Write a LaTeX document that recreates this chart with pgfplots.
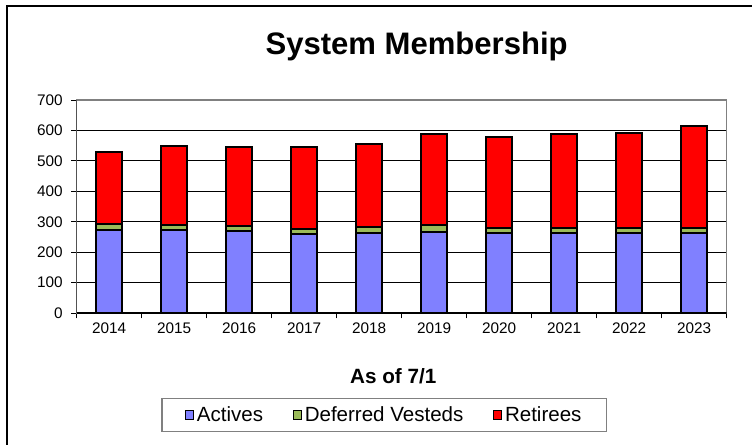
\documentclass[border=0pt]{standalone}
\usepackage{pgfplots}
\pgfplotsset{compat=1.18}
\usepackage{fontspec}
\setmainfont{Liberation Sans}
\definecolor{cActive}{HTML}{8080FF}
\definecolor{cDef}{HTML}{9BBB59}
\definecolor{cRet}{HTML}{FF0000}
\begin{document}
\begin{tikzpicture}
\begin{axis}[
  at={(57.5pt,-234.75pt)}, anchor=south west,
  scale only axis, width=487.5pt, height=159.75pt,
  ybar stacked, bar width=19.5pt,
  xmin=-0.5, xmax=9.5, ymin=0, ymax=700,
  ytick={0,100,...,700},
  xtick={0,...,9},
  xticklabels={2014,2015,2016,2017,2018,2019,2020,2021,2022,2023},
  minor xtick={-0.5,0.5,...,9.5},
  major x tick style={draw=none},
  minor x tick style={black, line width=0.6pt},
  minor tick length=4pt,
  y tick style={black, line width=0.6pt},
  major tick length=4pt,
  tick align=outside, tick pos=left,
  ymajorgrids, grid style={black, line width=0.6pt},
  axis line style={draw=gray, line width=1pt},
  /pgf/number format/assume math mode=true,
  ticklabel style={font=\fontsize{11.5}{13}\selectfont},
  yticklabel style={xshift=-3pt},
  title={System Membership},
  title style={font=\bfseries\fontsize{23.3}{27}\selectfont, at={(0.523,1.178)}, anchor=base},
  xlabel={As of 7/1},
  xlabel style={font=\bfseries\fontsize{15.5}{18}\selectfont, at={(0.487,-0.330)}, anchor=base},
  legend style={at={(0.4735,-0.479)}, anchor=center, legend columns=3,
    draw=gray, line width=1pt, font=\fontsize{15.4}{18}\selectfont,
    inner xsep=17pt, inner ysep=4pt,
    /tikz/every even column/.append style={column sep=20pt}},
  legend image code/.code={\draw[#1, line width=0.8pt, draw=black] (0pt,-3.2pt) rectangle (6.4pt,3.2pt);},
]
\addplot[fill=cActive, draw=black, line width=1.5pt] coordinates {
 (0,272) (1,272) (2,268) (3,260) (4,263) (5,267) (6,263) (7,263) (8,263) (9,263)};
\addplot[fill=cDef, draw=black, line width=1.5pt] coordinates {
 (0,19) (1,17) (2,18) (3,17) (4,19) (5,22) (6,15) (7,17) (8,17) (9,17)};
\addplot[fill=cRet, draw=black, line width=1.5pt] coordinates {
 (0,238) (1,259) (2,259) (3,268) (4,272) (5,300) (6,302) (7,309) (8,313) (9,333)};
\legend{Actives,Deferred Vesteds,Retirees}
\draw[black, line width=1pt] (rel axis cs:0,0) -- (rel axis cs:0,1);
\draw[black, line width=1pt] (rel axis cs:0,0) -- (rel axis cs:1,0);
\end{axis}
\draw[black, line width=1pt] (5.25pt,-340pt) -- (5.25pt,-4.5pt) -- (570pt,-4.5pt);
\pgfresetboundingbox
\path[use as bounding box] (0pt,0pt) rectangle (564pt,-333pt);
\end{tikzpicture}
\end{document}
